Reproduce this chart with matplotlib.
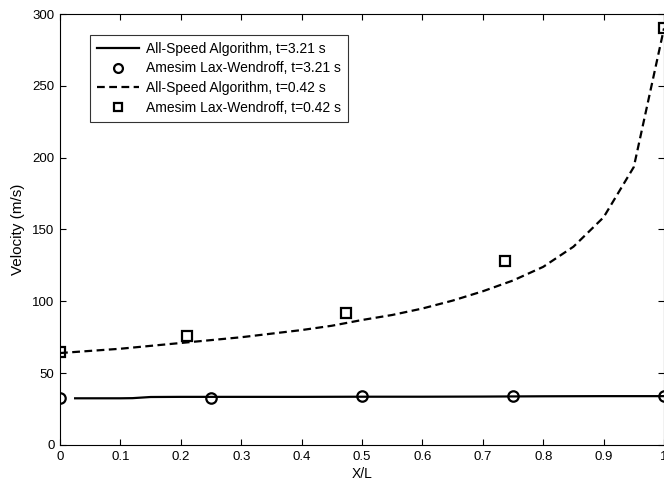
import matplotlib
matplotlib.use('Agg')
import matplotlib.pyplot as plt
import numpy as np

plt.rcParams['font.family'] = ['Liberation Sans', 'DejaVu Sans']

# all-speed algorithm, t=3.21 s
x_solid = [0.025, 0.05, 0.1, 0.12, 0.15, 0.2, 0.3, 0.4, 0.5, 0.6, 0.7, 0.75, 0.8, 0.9, 1.0]
v_solid = [32.5, 32.5, 32.5, 32.6, 33.4, 33.5, 33.5, 33.5, 33.6, 33.6, 33.7, 33.8, 33.9, 34.0, 34.0]

# amesim lax-wendroff, t=3.21 s
x_circ = [0.0, 0.25, 0.5, 0.75, 1.0]
v_circ = [33.0, 33.0, 34.0, 34.0, 34.0]

# all-speed algorithm, t=0.42 s
x_dash = [0.0, 0.05, 0.1, 0.15, 0.2, 0.25, 0.3, 0.35, 0.4, 0.45, 0.5, 0.55, 0.6,
          0.65, 0.7, 0.75, 0.8, 0.85, 0.9, 0.95, 1.0]
v_dash = [64, 65.5, 67, 69, 71, 73, 75, 77.5, 80, 83, 87, 90.5, 95,
          100.5, 107, 114.5, 124, 138, 158.5, 193.5, 290]

# amesim lax-wendroff, t=0.42 s
x_sq = [0.0, 0.21, 0.473, 0.737, 1.0]
v_sq = [65, 76, 92, 128, 290]

fig = plt.figure(figsize=(6.64, 4.83), dpi=100)
ax = fig.add_axes([0.0904, 0.0787, 0.9096, 0.8923])

ax.plot(x_solid, v_solid, 'k-', lw=1.6, label='All-Speed Algorithm, t=3.21 s')
ax.plot(x_circ, v_circ, 'ko', mfc='none', ms=7.5, mew=1.6, label='Amesim Lax-Wendroff, t=3.21 s')
ax.plot(x_dash, v_dash, 'k--', lw=1.6, dashes=(3.5, 2), label='All-Speed Algorithm, t=0.42 s')
ax.plot(x_sq, v_sq, 'ks', mfc='none', ms=7.5, mew=1.6, label='Amesim Lax-Wendroff, t=0.42 s')

ax.set_xlim(0, 1)
ax.set_ylim(0, 300)
ax.set_xticks(np.arange(0, 1.01, 0.1))
ax.set_xticklabels(['0', '0.1', '0.2', '0.3', '0.4', '0.5', '0.6', '0.7', '0.8', '0.9', '1'])
ax.set_yticks(np.arange(0, 301, 50))
ax.tick_params(direction='in', top=True, right=True, labelsize=9.5, length=4, width=0.8, pad=4)
ax.set_xlabel('X/L', fontsize=10, labelpad=3)
ax.set_ylabel('Velocity (m/s)', fontsize=11, labelpad=5)
for s in ax.spines.values():
    s.set_linewidth(0.8)

leg = ax.legend(loc='upper left', bbox_to_anchor=(0.05, 0.952), borderaxespad=0,
                fontsize=10, frameon=True, fancybox=False, edgecolor='k',
                handlelength=3.0, handletextpad=0.55, labelspacing=0.42, borderpad=0.5,
                markerscale=0.85)
leg.get_frame().set_linewidth(0.8)

fig.savefig('out.png', dpi=100)
